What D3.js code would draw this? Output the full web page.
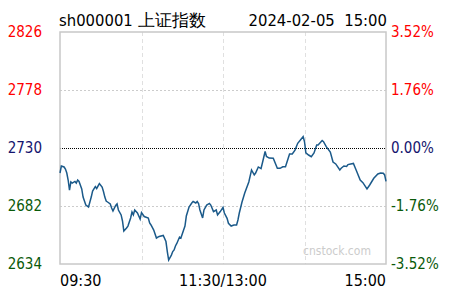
<!DOCTYPE html>
<html>
<head>
<meta charset="utf-8">
<script src="https://cdn.jsdelivr.net/npm/d3@7"></script>
<style>
  html, body { margin: 0; padding: 0; background: #fff; }
  text { font-family: "DejaVu Sans Condensed", "DejaVu Sans", sans-serif; }
</style>
</head>
<body>
<svg id="chart"></svg>
<script>
// 分时数据 (上证指数 2024-02-05)
const times = ["09:30","09:31","09:33","09:34","09:35","09:36","09:37","09:38","09:39","09:41",
  "09:42","09:43","09:44","09:46","09:47","09:48","09:49","09:51","09:52","09:53",
  "09:54","09:56","09:57","09:59","10:01","10:02","10:03","10:04","10:05","10:07",
  "10:08","10:09","10:11","10:12","10:13","10:15","10:16","10:17","10:19","10:20",
  "10:22","10:23","10:24","10:25","10:27","10:29","10:30","10:32","10:35","10:36",
  "10:37","10:39","10:41","10:43","10:46","10:48","10:49","10:50","10:52","10:53",
  "10:54","10:55","10:56","10:58","10:59","11:01","11:02","11:03","11:05","11:07",
  "11:08","11:10","11:11","11:12","11:13","11:15","11:16","11:18","11:20","11:21",
  "11:23","11:25","11:26","11:28","11:30","13:01","13:03","13:04","13:06","13:08",
  "13:10","13:11","13:12","13:14","13:16","13:19","13:21","13:23","13:24","13:26",
  "13:28","13:29","13:31","13:32","13:34","13:37","13:40","13:42","13:44","13:46",
  "13:48","13:49","13:51","13:53","13:55","13:57","13:59","14:00","14:01","14:03",
  "14:05","14:07","14:09","14:10","14:13","14:14","14:16","14:19","14:21","14:23",
  "14:26","14:27","14:29","14:31","14:32","14:34","14:36","14:38","14:41","14:43",
  "14:46","14:48","14:51","14:54","14:56","14:58","14:59","15:00"];
const prices = [2709.3,2715.1,2714.3,2712.6,2709.3,2703.5,2695.2,2701.9,2701.0,2702.3,
  2701.0,2703.5,2702.3,2696.1,2689.4,2686.1,2682.8,2681.2,2685.3,2689.4,
  2694.4,2698.1,2696.5,2700.6,2697.7,2694.0,2689.4,2686.1,2685.3,2683.7,
  2680.3,2677.9,2682.4,2683.7,2678.7,2674.6,2669.6,2661.3,2663.8,2665.4,
  2672.1,2677.0,2674.6,2678.7,2676.2,2671.2,2676.6,2673.3,2672.1,2667.9,
  2666.3,2662.1,2655.5,2656.8,2657.6,2652.6,2644.3,2637.3,2641.4,2644.3,
  2645.6,2648.9,2651.0,2656.3,2655.5,2662.1,2665.4,2673.7,2681.2,2684.5,
  2685.7,2684.5,2685.7,2684.1,2678.7,2672.1,2678.7,2682.8,2684.1,2682.8,
  2677.4,2678.7,2674.6,2677.4,2680.8,2676.2,2671.8,2667.7,2665.4,2666.3,
  2666.3,2670.4,2676.2,2685.3,2692.8,2701.9,2711.8,2707.7,2709.3,2714.3,
  2713.0,2717.6,2727.1,2723.0,2721.7,2721.5,2713.2,2713.2,2714.5,2714.5,
  2721.5,2725.0,2725.0,2728.3,2733.9,2736.6,2739.4,2735.2,2725.9,2724.2,
  2722.8,2725.9,2732.5,2732.5,2736.2,2735.2,2731.1,2726.7,2718.4,2716.8,
  2711.8,2713.2,2715.1,2714.7,2716.3,2716.8,2717.2,2711.8,2703.5,2701.3,
  2696.1,2699.4,2704.9,2708.5,2709.3,2709.1,2707.7,2702.4];

const priceTicks = [2826, 2778, 2730, 2682, 2634];
const pctTicks = ["3.52%", "1.76%", "0.00%", "-1.76%", "-3.52%"];
const timeLabels = ["09:30", "11:30/13:00", "15:00"];
const preClose = 2730;

const chartW = 450, chartH = 300;
const plotL = 60, plotR = 386, plotT = 32, plotB = 264;

// 交易分钟序号 (午休不计)
function minuteOf(t) {
  const [h, m] = t.split(":").map(Number);
  const v = h * 60 + m;
  return h < 12 ? v - 570 : v - 780 + 120;
}

const svg = d3.select("#chart").attr("width", chartW).attr("height", chartH);

const x = d3.scaleLinear().domain([0, 240]).range([plotL, plotR]);
const y = d3.scaleLinear().domain([2634, 2826]).range([plotB, plotT]);

function tickColor(v) {
  if (v > preClose) return "#ff0000";
  if (v < preClose) return "#0a5a0a";
  return "#14146e";
}

// 竖向虚线
svg.selectAll(".vgrid")
  .data([60, 120, 180])
  .enter().append("line")
  .attr("x1", d => Math.round(x(d)) + 0.5)
  .attr("x2", d => Math.round(x(d)) + 0.5)
  .attr("y1", plotT).attr("y2", plotB)
  .attr("stroke", "#e0e0e0")
  .attr("stroke-dasharray", "4,3");

// 横向网格
svg.selectAll(".hgrid")
  .data([2778, 2682])
  .enter().append("line")
  .attr("x1", plotL).attr("x2", plotR)
  .attr("y1", d => Math.round(y(d)) + 0.5)
  .attr("y2", d => Math.round(y(d)) + 0.5)
  .attr("stroke", "#cccccc")
  .attr("stroke-dasharray", "2,2");

// 昨收线
svg.append("line")
  .attr("x1", plotL).attr("x2", plotR)
  .attr("y1", Math.round(y(preClose)) + 0.5)
  .attr("y2", Math.round(y(preClose)) + 0.5)
  .attr("stroke", "#000")
  .attr("stroke-dasharray", "1,1");

// 水印
svg.append("text")
  .attr("x", 303).attr("y", 255)
  .style("font-size", "12px")
  .style("fill", "#cccccc")
  .text("cnstock.com");

// 边框
svg.append("rect")
  .attr("x", plotL).attr("y", plotT)
  .attr("width", plotR - plotL).attr("height", plotB - plotT)
  .attr("fill", "none")
  .attr("stroke", "#c8c8c8")
  .attr("stroke-width", 1.5);

// 价格线
const line = d3.line()
  .x((d, i) => x(minuteOf(times[i])))
  .y(d => y(d));

svg.append("path")
  .datum(prices)
  .attr("fill", "none")
  .attr("stroke", "#1b5a8a")
  .attr("stroke-width", 1.5)
  .attr("d", line);

// 左侧价格标签
svg.selectAll(".price-label")
  .data(priceTicks)
  .enter().append("text")
  .attr("x", 42)
  .attr("y", d => y(d))
  .attr("dy", "0.36em")
  .attr("text-anchor", "end")
  .style("font-size", "15px")
  .style("fill", d => tickColor(d))
  .text(d => d);

// 右侧涨跌幅标签
svg.selectAll(".pct-label")
  .data(pctTicks)
  .enter().append("text")
  .attr("x", 391)
  .attr("y", (d, i) => y(priceTicks[i]))
  .attr("dy", "0.36em")
  .style("font-size", "15px")
  .style("fill", (d, i) => tickColor(priceTicks[i]))
  .text(d => d);

// 时间标签
svg.selectAll(".time-label")
  .data(timeLabels)
  .enter().append("text")
  .attr("x", (d, i) => x(i * 120))
  .attr("y", 286)
  .attr("text-anchor", (d, i) => ["start", "middle", "end"][i])
  .style("font-size", "16px")
  .style("fill", "#000")
  .text(d => d);

// 标题
svg.append("text")
  .attr("x", 59).attr("y", 26)
  .style("font-size", "16.5px")
  .text("sh000001 上证指数");

svg.append("text")
  .attr("x", 387).attr("y", 26)
  .attr("text-anchor", "end")
  .style("font-size", "16.5px")
  .style("white-space", "pre")
  .text("2024-02-05  15:00");
</script>
</body>
</html>
